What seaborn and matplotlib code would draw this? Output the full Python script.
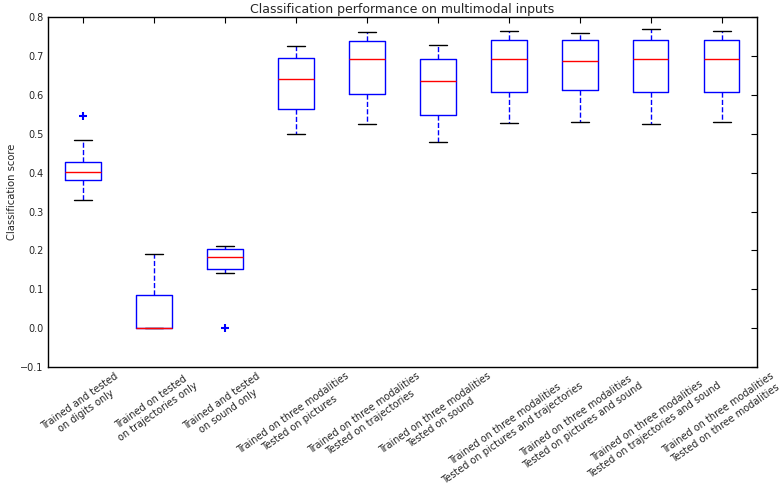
import matplotlib
matplotlib.use("Agg")
import matplotlib.pyplot as plt
import pandas as pd
import seaborn as sns

# box summary values (one entry per box)
labels = [
    "Trained and tested\non digits only",
    "Trained on tested\non trajectories only",
    "Trained and tested\non sound only",
    "Trained on three modalities\nTested on pictures",
    "Trained on three modalities\nTested on trajectories",
    "Trained on three modalities\nTested on sound",
    "Trained on three modalities\nTested on pictures and trajectories",
    "Trained on three modalities\nTested on pictures and sound",
    "Trained on three modalities\nTested on trajectories and sound",
    "Trained on three modalities\nTested on three modalities",
]
whis_low = [0.330, 0.000, 0.142, 0.500, 0.526, 0.479, 0.527, 0.529, 0.526, 0.530]
q1 = [0.380, 0.000, 0.152, 0.564, 0.603, 0.547, 0.607, 0.613, 0.607, 0.607]
median = [0.402, 0.000, 0.182, 0.640, 0.692, 0.637, 0.692, 0.686, 0.692, 0.692]
q3 = [0.427, 0.085, 0.203, 0.694, 0.739, 0.692, 0.742, 0.742, 0.742, 0.742]
whis_high = [0.485, 0.190, 0.212, 0.725, 0.763, 0.729, 0.764, 0.760, 0.770, 0.764]

# outliers: box index and value
flier_box = [0, 2]
flier_val = [0.545, 0.000]


def build_frame():
	rows = []
	for i, lab in enumerate(labels):
		for v in (whis_low[i], q1[i], median[i], q3[i], whis_high[i]):
			rows.append({"group": lab, "score": v})
	return pd.DataFrame(rows)


def main():
	sns.set_style("white")
	plt.rcParams["font.family"] = ["DejaVu Sans"]
	plt.rcParams["xtick.direction"] = "in"
	plt.rcParams["ytick.direction"] = "in"
	plt.rcParams["xtick.top"] = True
	plt.rcParams["ytick.right"] = True
	plt.rcParams["axes.edgecolor"] = "black"
	plt.rcParams["axes.linewidth"] = 1.0

	df = build_frame()

	fig, ax = plt.subplots(figsize=(7.83, 4.90), dpi=100)
	fig.subplots_adjust(left=0.061, right=0.967, top=0.965, bottom=0.251)

	sns.boxplot(
		data=df, x="group", y="score", order=labels, ax=ax,
		width=0.5, fill=False, color="blue", whis=(0, 100), showfliers=False,
		linewidth=1.0,
		boxprops={"color": "blue"},
		medianprops={"color": "red"},
		whiskerprops={"color": "blue", "linestyle": "--"},
		capprops={"color": "black"},
	)
	ax.plot(flier_box, flier_val, "+", color="blue", markersize=5.5, markeredgewidth=1.5)

	ax.set_xlim(-0.5, len(labels) - 0.5)
	ax.set_ylim(-0.1, 0.8)
	ax.set_yticks([i / 10 for i in range(-1, 9)])
	ax.set_yticklabels([f"{i / 10:.1f}".replace("-", "\u2212") for i in range(-1, 9)], fontsize=7)
	ax.set_xticks(range(len(labels)))
	ax.set_xticklabels(labels, rotation=35, ha="center", multialignment="center", fontsize=7)
	ax.tick_params(length=4, width=0.8, color="black", pad=3)

	ax.set_xlabel("")
	ax.set_ylabel("Classification score", fontsize=7.2, labelpad=2)
	ax.set_title("Classification performance on multimodal inputs", fontsize=9, pad=3)

	for s in ax.spines.values():
		s.set_color("black")

	plt.savefig("out.png", dpi=100)


if __name__ == "__main__":
	main()
